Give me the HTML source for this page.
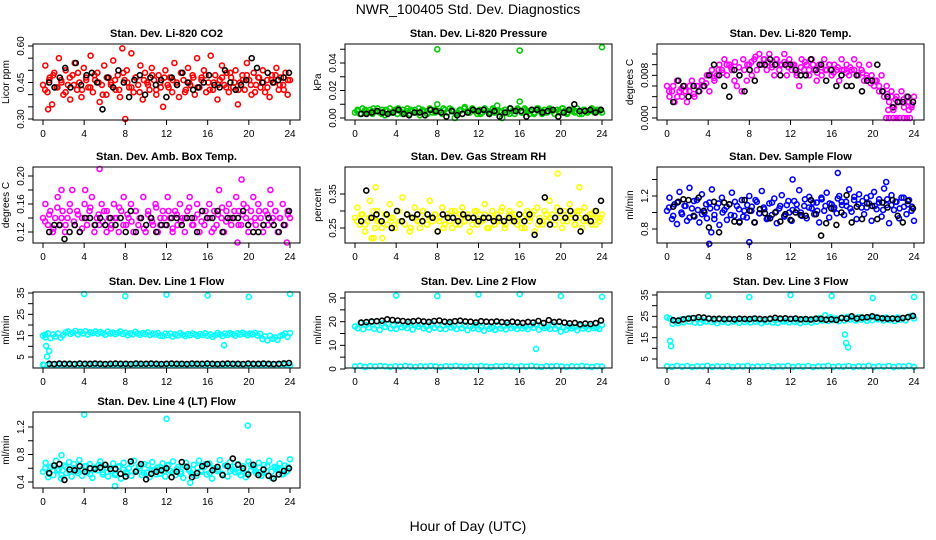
<!DOCTYPE html>
<html><head><meta charset="utf-8">
<style>
html,body{margin:0;padding:0;background:#fff;}
svg{display:block;font-family:"Liberation Sans",Arial,sans-serif;}
</style></head>
<body>
<svg id="chart" width="936" height="540" viewBox="0 0 936 540" xmlns="http://www.w3.org/2000/svg">
<rect width="936" height="540" fill="#fff"/>
<text x="468" y="14" text-anchor="middle" font-size="14">NWR_100405  Std. Dev. Diagnostics</text>
<text x="468" y="531" text-anchor="middle" font-size="14">Hour of Day (UTC)</text>
</svg>
<script>
// ---- data arrays ----
const xTicks = [0,4,8,12,16,20,24];

const co2Red = [0.44,0.52,0.41,0.47,0.36,0.49,0.43,0.55,0.46,0.40,0.50,0.44,0.38,0.48,0.53,0.42,0.45,0.39,0.51,0.47,0.43,0.56,0.41,0.46,0.49,0.37,0.44,0.52,0.40,0.47,0.45,0.54,0.42,0.48,0.39,0.59,0.46,0.50,0.43,0.57,0.41,0.47,0.44,0.52,0.38,0.49,0.45,0.42,0.51,0.46,0.40,0.48,0.43,0.35,0.50,0.44,0.47,0.41,0.53,0.45,0.39,0.49,0.46,0.42,0.51,0.44,0.48,0.40,0.55,0.43,0.47,0.50,0.41,0.45,0.56,0.42,0.48,0.38,0.46,0.52,0.44,0.49,0.41,0.47,0.43,0.50,0.36,0.45,0.48,0.42,0.53,0.46,0.40,0.49,0.44,0.47,0.43,0.50,0.41,0.46,0.39,0.48,0.45,0.51,0.42,0.47,0.44,0.49,0.40,0.46];
const co2RedB = [0.42,0.46,0.48,0.43,0.45,0.41,0.47,0.44,0.49,0.42,0.46,0.43,0.48,0.45,0.40,0.47,0.44,0.46,0.42,0.49,0.45,0.43,0.47,0.41,0.46,0.44,0.48,0.42,0.45,0.47,0.43,0.46,0.44,0.49,0.41,0.45,0.47,0.43,0.46,0.48,0.42,0.45,0.44,0.47,0.43,0.49,0.45,0.42,0.46,0.48,0.44,0.41,0.47,0.45,0.43,0.46,0.48,0.44,0.42,0.46];
const co2Black = [0.45,0.43,0.47,0.51,0.43,0.53,0.44,0.48,0.49,0.45,0.34,0.47,0.43,0.50,0.45,0.39,0.46,0.48,0.40,0.47,0.44,0.46,0.39,0.47,0.44,0.49,0.45,0.42,0.43,0.45,0.48,0.44,0.43,0.50,0.45,0.42,0.44,0.46,0.55,0.51,0.45,0.49,0.45,0.46,0.47,0.49];
const co2SpikeH = [8.0,0.5];
const co2SpikeV = [0.30,0.34];

const presGreen = [0.004,0.006,0.003,0.007,0.005,0.004,0.006,0.003,0.005,0.007,0.004,0.006,0.002,0.005,0.007,0.004,0.006,0.003,0.005,0.006,0.004,0.007,0.003,0.005,0.006,0.004,0.002,0.006,0.005,0.003,0.007,0.004,0.006,0.010,0.005,0.003,0.006,0.004,0.007,0.005,0.000,0.004,0.006,0.003,0.008,0.005,0.004,0.007,0.005,0.003,0.006,0.004,0.007,0.005,0.003,0.006,0.004,0.009,0.005,0.000,0.006,0.004,0.007,0.005,0.003,0.006,0.012,0.004,0.007,0.005,0.003,0.006,0.004,0.007,0.005,0.003,0.006,0.004,0.007,0.005,0.003,0.006,0.004,0.007,0.005,0.003,0.006,0.005,0.004,0.007,0.005,0.003,0.006,0.004,0.005,0.007,0.004,0.006,0.005,0.004];
const presGreenB = [0.005,0.003,0.006,0.004,0.007,0.005,0.003,0.006,0.004,0.005,0.007,0.003,0.005,0.006,0.004,0.007,0.005,0.003,0.006,0.004,0.005,0.007,0.004,0.006,0.003,0.005,0.007,0.004,0.006,0.005,0.003,0.006,0.004,0.007,0.005,0.004,0.006,0.003,0.005,0.007,0.004,0.006,0.005,0.003,0.007,0.005,0.004,0.006,0.003,0.005,0.007,0.004,0.006,0.005,0.003,0.006,0.004,0.007,0.005,0.006];
const presBlack = [0.003,0.003,0.004,0.005,0.004,0.003,0.004,0.006,0.003,0.002,0.004,0.004,0.002,0.006,0.005,0.004,0.001,0.005,0.002,0.003,0.004,0.006,0.005,0.006,0.003,0.005,0.001,0.004,0.007,0.005,0.005,0.001,0.006,0.006,0.004,0.005,0.006,0.001,0.004,0.006,0.010,0.005,0.005,0.006,0.004,0.006];
const presSpikeH = [8.0,16.0,24.0];
const presSpikeV = [0.050,0.049,0.0515];

const tempMag = [0.006,0.004,0.005,0.003,0.007,0.005,0.004,0.006,0.003,0.005,0.007,0.004,0.006,0.005,0.007,0.006,0.008,0.005,0.009,0.007,0.008,0.010,0.009,0.011,0.008,0.010,0.009,0.007,0.006,0.008,0.005,0.009,0.007,0.010,0.008,0.011,0.009,0.012,0.010,0.011,0.009,0.012,0.010,0.008,0.011,0.009,0.010,0.012,0.008,0.011,0.009,0.010,0.008,0.006,0.011,0.009,0.010,0.008,0.011,0.009,0.007,0.010,0.008,0.011,0.009,0.010,0.008,0.010,0.009,0.007,0.011,0.009,0.010,0.008,0.009,0.011,0.008,0.010,0.009,0.007,0.008,0.010,0.008,0.006,0.007,0.005,0.008,0.004,0.006,0.003,0.005,0.002,0.004,0.003,0.005,0.002,0.004,0.003,0.002,0.004];
const tempMagB = [0.005,0.006,0.004,0.0055,0.005,0.006,0.0045,0.006,0.007,0.0065,0.008,0.0075,0.009,0.0085,0.010,0.0095,0.0105,0.0095,0.011,0.010,0.0105,0.0115,0.010,0.011,0.0105,0.0095,0.011,0.010,0.0105,0.0095,0.010,0.0085,0.0095,0.0105,0.009,0.010,0.0085,0.0095,0.009,0.010,0.0085,0.0095,0.009,0.0085,0.0095,0.009,0.008,0.0085,0.0075,0.0065,0.007,0.006,0.005,0.0045,0.004,0.0035,0.003,0.0035,0.003,0.0025];
const tempBlack = [0.003,0.007,0.006,0.004,0.006,0.005,0.006,0.008,0.010,0.008,0.006,0.004,0.009,0.008,0.005,0.009,0.007,0.010,0.010,0.011,0.010,0.008,0.010,0.010,0.009,0.008,0.008,0.011,0.009,0.010,0.007,0.009,0.006,0.008,0.006,0.006,0.008,0.005,0.007,0.007,0.010,0.005,0.004,0.002,0.003,0.003,0.004,0.003];
const tempSpikeH = [21.3,21.6,22.0,22.3,22.6,23.0,23.3,23.6,21.5,22.0,23.5];
const tempSpikeV = [0.000,0.000,0.000,0.000,0.000,0.000,0.000,0.000,0.0015,0.0015,0.0015];

const ambMag = [0.14,0.16,0.13,0.15,0.12,0.14,0.17,0.13,0.15,0.12,0.14,0.16,0.18,0.13,0.15,0.12,0.14,0.16,0.13,0.15,0.17,0.12,0.14,0.13,0.16,0.15,0.12,0.14,0.13,0.16,0.14,0.12,0.15,0.17,0.13,0.14,0.16,0.12,0.15,0.13,0.14,0.17,0.12,0.15,0.14,0.13,0.16,0.12,0.14,0.15,0.13,0.17,0.14,0.12,0.15,0.13,0.16,0.14,0.12,0.15,0.17,0.13,0.14,0.16,0.12,0.15,0.13,0.14,0.16,0.12,0.15,0.13,0.18,0.14,0.12,0.15,0.16,0.13,0.14,0.17,0.15,0.13,0.16,0.14,0.12,0.15,0.17,0.13,0.16,0.14,0.12,0.15,0.13,0.16,0.14,0.15,0.12,0.14,0.16,0.13,0.15,0.14];
const ambMagB = [0.135,0.145,0.125,0.155,0.14,0.13,0.15,0.135,0.145,0.125,0.14,0.155,0.13,0.145,0.135,0.15,0.125,0.14,0.155,0.13,0.145,0.135,0.15,0.14,0.125,0.145,0.135,0.155,0.13,0.14,0.15,0.125,0.145,0.135,0.14,0.155,0.13,0.145,0.135,0.15,0.14,0.125,0.145,0.155,0.135,0.14,0.15,0.13,0.145,0.155,0.135,0.14,0.15,0.13,0.145,0.135,0.15,0.14,0.13,0.145];
const ambBlack = [0.12,0.13,0.13,0.11,0.12,0.13,0.12,0.14,0.14,0.13,0.14,0.13,0.14,0.13,0.14,0.12,0.15,0.12,0.14,0.13,0.14,0.12,0.13,0.13,0.14,0.14,0.13,0.14,0.14,0.12,0.15,0.14,0.14,0.15,0.12,0.14,0.14,0.14,0.15,0.13,0.12,0.12,0.13,0.14,0.13,0.12,0.13,0.15];
const ambSpikeH = [5.5,1.8,4.1,19.3,18.9,22.1,23.7];
const ambSpikeV = [0.21,0.18,0.18,0.195,0.105,0.18,0.105];

const rhYel = [0.28,0.31,0.26,0.29,0.24,0.27,0.33,0.28,0.25,0.30,0.27,0.22,0.29,0.26,0.32,0.28,0.25,0.30,0.27,0.34,0.26,0.29,0.24,0.28,0.31,0.27,0.25,0.30,0.28,0.26,0.33,0.27,0.29,0.24,0.28,0.31,0.26,0.29,0.27,0.25,0.30,0.28,0.26,0.31,0.27,0.29,0.24,0.28,0.30,0.26,0.29,0.27,0.32,0.25,0.28,0.30,0.26,0.29,0.27,0.31,0.25,0.28,0.30,0.27,0.29,0.26,0.32,0.28,0.25,0.30,0.27,0.29,0.24,0.31,0.28,0.26,0.30,0.27,0.33,0.29,0.26,0.31,0.28,0.25,0.30,0.27,0.32,0.29,0.26,0.30,0.28,0.25,0.31,0.27,0.29,0.26,0.30,0.28,0.27,0.29];
const rhYelB = [0.27,0.29,0.26,0.28,0.30,0.27,0.25,0.29,0.28,0.26,0.30,0.27,0.29,0.25,0.28,0.27,0.30,0.26,0.28,0.29,0.27,0.25,0.28,0.30,0.26,0.29,0.27,0.28,0.26,0.30,0.27,0.29,0.25,0.28,0.27,0.30,0.26,0.29,0.28,0.27,0.25,0.29,0.28,0.30,0.26,0.27,0.29,0.28,0.26,0.30,0.27,0.29,0.28,0.26,0.30,0.27,0.28,0.29,0.26,0.28];
const rhBlack = [0.27,0.36,0.28,0.29,0.27,0.29,0.25,0.30,0.27,0.29,0.28,0.29,0.27,0.29,0.28,0.24,0.29,0.28,0.28,0.27,0.29,0.28,0.28,0.27,0.28,0.28,0.27,0.28,0.27,0.28,0.27,0.29,0.27,0.29,0.23,0.27,0.34,0.26,0.28,0.30,0.28,0.30,0.28,0.24,0.28,0.27,0.30,0.33];
const rhSpikeH = [19.7,1.6,1.8,2.0,21.8];
const rhSpikeV = [0.41,0.22,0.22,0.37,0.37];

const flowBlue = [1.02,1.18,0.92,1.10,0.86,1.25,0.98,1.08,0.90,1.30,1.05,0.95,1.15,0.88,1.22,1.00,0.93,1.12,1.28,0.97,1.06,0.85,1.18,1.03,0.91,1.10,1.24,0.96,1.08,0.89,1.15,1.02,0.94,1.20,1.07,0.88,1.13,0.99,1.26,1.04,0.92,1.11,0.97,1.17,0.87,1.05,1.21,0.95,1.09,1.00,0.90,1.14,1.03,1.27,0.96,1.08,0.93,1.19,1.05,0.98,1.12,0.88,1.16,1.02,1.24,0.94,1.10,1.06,0.99,1.20,1.13,0.97,1.08,1.28,1.01,1.15,0.92,1.22,1.06,0.98,1.18,1.11,0.90,1.25,1.04,1.16,0.95,1.29,1.09,0.87,1.21,1.03,1.13,0.93,1.18,1.07,0.98,1.15,1.02,0.90];
const flowBlueB = [1.06,0.96,1.12,1.00,1.08,0.94,1.14,1.03,0.98,1.10,1.05,0.92,1.11,1.00,1.07,0.97,1.13,1.04,0.95,1.09,1.02,1.15,0.99,1.06,0.93,1.12,1.01,1.08,0.96,1.14,1.03,1.10,1.00,1.16,1.06,1.12,1.02,1.18,1.08,1.11,1.04,1.17,1.09,1.13,1.05,1.19,1.10,1.14,1.06,1.20,1.08,1.12,1.03,1.16,1.09,1.13,1.05,1.18,1.10,1.07];
const flowBlack = [1.07,1.13,1.16,1.15,0.96,1.18,1.02,0.82,1.13,0.76,1.12,1.10,0.89,0.88,1.15,1.02,0.88,1.04,0.99,0.93,1.00,0.89,0.98,0.91,1.00,0.97,0.96,1.15,0.98,0.72,0.87,1.05,0.85,1.00,1.21,0.88,1.07,0.92,1.11,1.08,0.92,1.12,1.06,1.15,0.96,0.88,1.14,1.05];
const flowSpikeH = [4.1,8.0,16.6,12.2,21.3,4.3];
const flowSpikeV = [0.62,0.64,1.48,1.40,1.37,0.76];

const l1Cyan = [15.0,14.2,16.1,13.8,15.5,14.6,16.0,14.0,15.2,16.5,17.0,15.8,16.4,17.2,15.6,16.8,16.0,17.1,15.5,16.6,16.2,17.0,15.9,16.7,16.1,15.4,16.9,16.0,16.5,15.7,16.3,17.0,15.8,16.4,15.2,16.1,15.6,16.8,16.0,15.4,16.2,15.7,16.6,15.3,16.0,15.5,16.3,15.0,14.8,15.9,15.2,16.0,14.6,15.6,15.1,16.2,15.4,14.8,15.7,15.2,16.0,15.5,14.9,15.8,15.3,16.1,15.0,15.6,14.4,15.2,16.3,15.5,14.8,16.0,15.4,16.2,15.7,15.0,16.1,15.5,16.4,15.8,15.2,16.0,15.6,16.3,15.1,15.9,13.4,14.6,12.8,15.0,13.6,14.2,13.0,14.8,15.3,16.0,14.4,16.2];
const l1CyanLow = [1.4,1.2,1.5,1.3,1.4,1.2,1.5,1.3,1.4,1.2,1.5,1.3,1.4,1.2,1.5,1.3,1.4,1.2,1.5,1.3,1.4,1.2,1.5,1.3,1.4,1.2,1.5,1.3,1.4,1.2,1.5,1.3,1.4,1.2,1.5,1.3,1.4,1.2,1.5,1.3,1.4,1.2,1.5,1.3,1.4,1.2,1.5,1.3,1.4,1.2];
const l1Black = [1.8,1.7,1.9,1.8,1.8,1.7,1.9,1.8,1.8,1.9,1.8,1.7,1.8,1.9,1.8,1.8,1.7,1.9,1.8,1.8,1.9,1.8,1.7,1.8,1.9,1.8,1.8,1.7,1.9,1.8,1.8,1.9,1.8,1.7,1.8,1.9,1.8,1.8,1.7,1.9,1.8,1.8,1.9,1.8,1.7,1.8,2.0,2.2];
const l1SpikeH = [4.0,8.0,12.0,16.0,20.0,24.0,0.2,0.3,0.4,0.6,17.6,0.1];
const l1SpikeV = [34.5,33.5,34.2,33.8,33.2,34.5,15.5,10.2,5.2,7.8,10.5,1.2];

const l2Cyan = [18.0,17.2,19.5,16.8,18.6,17.5,19.8,17.0,18.3,16.5,19.2,17.8,18.9,17.1,18.4,16.9,19.0,17.6,18.2,17.3,19.4,16.7,18.5,17.9,18.8,17.2,18.0,16.6,19.1,17.4,18.6,17.0,18.3,16.8,19.0,17.5,18.1,16.9,18.7,17.3,18.4,16.4,17.9,17.2,18.5,16.8,17.6,16.2,18.2,17.0,17.4,16.5,18.6,17.1,18.0,16.7,18.8,17.3,17.9,16.9,18.4,17.2,17.7,16.8,18.3,17.4,18.9,16.6,18.1,17.3,17.6,16.9,18.5,17.0,18.2,15.8,17.4,16.6,18.0,17.2,17.6,16.4,18.3,17.1,17.8,16.8,18.1,17.3,17.5,16.9,18.6];
const l2CyanLow = [1.1,1.3,0.9,1.2,1.0,1.3,1.1,0.9,1.2,1.0,1.3,1.1,0.9,1.2,1.0,1.3,1.1,0.9,1.2,1.0,1.3,1.1,0.9,1.2,1.0,1.3,1.1,0.9,1.2,1.0,1.3,1.1,0.9,1.2,1.0,1.3,1.1,0.9,1.2,1.0,1.3,1.1,0.9,1.2,1.0,1.3,1.1,0.9,1.2,1.0];
const l2Black = [19.6,19.8,20.1,20.2,20.4,21.0,20.7,20.5,20.3,20.0,20.2,20.4,20.1,19.9,20.3,20.5,20.0,19.8,20.2,20.4,20.1,20.0,19.7,20.2,20.0,19.9,20.1,19.8,19.6,20.0,19.7,19.5,19.9,19.6,20.3,19.4,20.6,19.8,20.0,19.6,19.3,19.5,18.9,19.2,19.0,19.4,20.5];
const l2SpikeH = [4.0,8.0,12.0,16.0,20.0,24.0,17.6];
const l2SpikeV = [31.0,30.8,31.5,31.6,30.8,30.5,8.5];

const l3Cyan = [24.5,24.0,21.5,22.8,21.8,23.5,22.2,23.8,22.5,24.2,22.0,23.4,21.9,23.1,22.6,23.9,22.3,23.0,21.8,23.6,22.4,23.2,22.0,23.7,22.6,23.1,21.9,23.5,22.3,23.0,22.1,23.8,22.5,23.3,21.8,23.0,22.4,23.6,22.1,23.2,21.9,23.4,22.6,23.0,22.2,23.7,22.4,23.1,21.8,23.5,22.3,23.2,22.0,23.6,22.5,24.2,23.0,25.5,22.8,24.6,23.2,24.0,22.7,24.4,23.1,24.8,23.5,24.1,23.0,24.6,23.4,24.0,22.9,24.3,23.2,24.7,23.6,24.1,23.0,24.4,23.3,24.0,22.8,24.5,23.4,24.2,23.1,24.8,25.2,24.0];
const l3CyanLow = [1.6,1.3,1.8,1.4,1.7,1.2,1.6,1.5,1.8,1.3,1.6,1.4,1.7,1.2,1.6,1.5,1.8,1.3,1.6,1.4,1.7,1.2,1.6,1.5,1.8,1.3,1.6,1.4,1.7,1.2,1.6,1.5,1.8,1.3,1.6,1.4,1.7,1.2,1.6,1.5,1.8,1.3,1.6,1.4,1.7,1.2,1.6,1.5,1.8,1.3];
const l3Black = [23.2,23.0,23.6,24.0,24.2,24.6,24.4,24.0,23.8,23.9,23.7,23.8,23.6,23.9,23.8,23.7,24.0,23.8,23.6,23.9,24.3,24.0,24.1,23.8,24.0,23.6,23.7,23.5,23.9,23.8,23.4,23.6,23.3,24.2,24.0,25.0,24.0,24.4,24.6,25.0,24.4,24.1,23.9,24.0,23.8,24.2,24.6,25.2];
const l3SpikeH = [4.0,8.0,12.0,16.0,20.0,24.0,0.3,0.4,17.3,17.4,17.6];
const l3SpikeV = [34.5,34.0,35.0,34.6,33.6,34.0,13.5,11.0,16.5,12.5,10.5];

const l4Cyan = [0.55,0.68,0.47,0.62,0.50,0.71,0.58,0.45,0.64,0.53,0.69,0.48,0.60,0.56,0.72,0.49,0.63,0.54,0.66,0.46,0.61,0.57,0.70,0.51,0.65,0.48,0.59,0.67,0.52,0.62,0.45,0.68,0.55,0.60,0.49,0.71,0.57,0.63,0.50,0.66,0.54,0.47,0.69,0.58,0.61,0.52,0.67,0.48,0.64,0.56,0.70,0.50,0.62,0.55,0.46,0.68,0.59,0.53,0.65,0.49,0.71,0.57,0.62,0.51,0.67,0.45,0.60,0.56,0.72,0.52,0.64,0.48,0.69,0.58,0.54,0.66,0.50,0.63,0.47,0.70,0.57,0.61,0.53,0.68,0.49,0.65,0.55,0.71,0.46,0.62,0.58,0.67,0.51,0.64,0.56,0.73];
const l4CyanB = [0.60,0.52,0.64,0.57,0.50,0.62,0.55,0.66,0.53,0.59,0.63,0.51,0.58,0.65,0.54,0.61,0.56,0.50,0.63,0.58,0.52,0.66,0.55,0.60,0.53,0.64,0.57,0.51,0.62,0.56,0.65,0.54,0.59,0.52,0.63,0.57,0.50,0.61,0.55,0.66,0.53,0.60,0.58,0.51,0.64,0.56,0.62,0.54,0.59,0.52,0.65,0.57,0.61,0.53,0.63,0.55,0.60,0.58,0.52,0.62];
const l4Black = [0.53,0.64,0.66,0.43,0.58,0.57,0.63,0.55,0.60,0.59,0.61,0.65,0.59,0.59,0.52,0.48,0.70,0.55,0.66,0.44,0.52,0.55,0.57,0.60,0.47,0.55,0.69,0.62,0.47,0.53,0.63,0.66,0.57,0.62,0.50,0.63,0.74,0.65,0.60,0.51,0.65,0.50,0.58,0.49,0.45,0.51,0.56,0.60];
const l4SpikeH = [4.0,12.0,19.9,7.0,1.8,14.3];
const l4SpikeV = [1.38,1.32,1.22,0.34,0.79,0.39];

// ---- layout ----
const BOX_W = 267, BOX_H = 76;
const colLeft = [33, 345, 657];
const rowTop = [44, 167, 292, 412];
const NS = 'http://www.w3.org/2000/svg';
const svg = document.getElementById('chart');

function mk(tag, attrs, parent) {
  const e = document.createElementNS(NS, tag);
  for (const k in attrs) e.setAttribute(k, attrs[k]);
  (parent || svg).appendChild(e);
  return e;
}

const panels = [
  {c:0,r:0,title:'Stan. Dev. Li-820 CO2',ylab:'Licor ppm',name:'co2',yt:[0.30,0.35,0.40,0.45,0.50,0.55,0.60],lv:[0.30,0.45,0.60],lt:['0.30','0.45','0.60'],a:[0.60,2],b:[0.30,75],
   series:[[co2Red,'#ff0000',0,24],[co2RedB,'#ff0000',0.2,23.8],[co2Black,'#000',0.6,23.9]],sh:co2SpikeH,sv:co2SpikeV,sc:'#ff0000'},
  {c:1,r:0,title:'Stan. Dev. Li-820 Pressure',ylab:'kPa',name:'pressure',yt:[0,0.01,0.02,0.03,0.04,0.05],lv:[0,0.02,0.04],lt:['0.00','0.02','0.04'],a:[0,74],b:[0.04,19],
   series:[[presGreen,'#00cc00',0,24],[presGreenB,'#00cc00',0.2,23.8],[presBlack,'#000',0.6,23.9]],sh:presSpikeH,sv:presSpikeV,sc:'#00cc00'},
  {c:2,r:0,title:'Stan. Dev. Li-820 Temp.',ylab:'degrees C',name:'temp',yt:[0,0.002,0.004,0.006,0.008,0.010,0.012],lv:[0,0.008],lt:['0.000','0.008'],a:[0,74],b:[0.012,10],
   series:[[tempMag,'#ff00ff',0,24],[tempMagB,'#ff00ff',0.2,23.8],[tempBlack,'#000',0.6,23.9]],sh:tempSpikeH,sv:tempSpikeV,sc:'#ff00ff'},
  {c:0,r:1,title:'Stan. Dev. Amb. Box Temp.',ylab:'degrees C',name:'amb-box-temp',yt:[0.12,0.14,0.16,0.18,0.20],lv:[0.12,0.16,0.20],lt:['0.12','0.16','0.20'],a:[0.20,9],b:[0.12,65],
   series:[[ambMag,'#ff00ff',0,24],[ambMagB,'#ff00ff',0.2,23.8],[ambBlack,'#000',0.6,23.9]],sh:ambSpikeH,sv:ambSpikeV,sc:'#ff00ff'},
  {c:1,r:1,title:'Stan. Dev. Gas Stream RH',ylab:'percent',name:'gas-stream-rh',yt:[0.25,0.30,0.35],lv:[0.25,0.35],lt:['0.25','0.35'],a:[0.35,27],b:[0.25,61],
   series:[[rhYel,'#ffff00',0,24],[rhYelB,'#ffff00',0.2,23.8],[rhBlack,'#000',0.6,23.9]],sh:rhSpikeH,sv:rhSpikeV,sc:'#ffff00'},
  {c:2,r:1,title:'Stan. Dev. Sample Flow',ylab:'ml/min',name:'sample-flow',yt:[0.8,1.0,1.2,1.4],lv:[0.8,1.2],lt:['0.8','1.2'],a:[1.2,29],b:[0.8,62],
   series:[[flowBlue,'#0000ff',0,24],[flowBlueB,'#0000ff',0.2,23.8],[flowBlack,'#000',0.6,23.9]],sh:flowSpikeH,sv:flowSpikeV,sc:'#0000ff'},
  {c:0,r:2,title:'Stan. Dev. Line 1 Flow',ylab:'ml/min',name:'line1-flow',yt:[5,10,15,20,25,30,35],lv:[5,15,25,35],lt:['5','15','25','35'],a:[35,1],b:[5,65],
   series:[[l1Cyan,'#00ffff',0,24],[l1CyanLow,'#00ffff',0,24],[l1Black,'#000',0.6,23.9]],sh:l1SpikeH,sv:l1SpikeV,sc:'#00ffff'},
  {c:1,r:2,title:'Stan. Dev. Line 2 Flow',ylab:'ml/min',name:'line2-flow',yt:[0,5,10,15,20,25,30],lv:[0,10,20,30],lt:['0','10','20','30'],a:[30,6],b:[0,77],
   series:[[l2Cyan,'#00ffff',0,24],[l2CyanLow,'#00ffff',0,24],[l2Black,'#000',0.6,23.9]],sh:l2SpikeH,sv:l2SpikeV,sc:'#00ffff'},
  {c:2,r:2,title:'Stan. Dev. Line 3 Flow',ylab:'ml/min',name:'line3-flow',yt:[5,10,15,20,25,30,35],lv:[5,15,25,35],lt:['5','15','25','35'],a:[35,3],b:[5,67],
   series:[[l3Cyan,'#00ffff',0,24],[l3CyanLow,'#00ffff',0,24],[l3Black,'#000',0.6,23.9]],sh:l3SpikeH,sv:l3SpikeV,sc:'#00ffff'},
  {c:0,r:3,title:'Stan. Dev. Line 4 (LT) Flow',ylab:'ml/min',name:'line4-flow',yt:[0.4,0.6,0.8,1.0,1.2],lv:[0.4,0.8,1.2],lt:['0.4','0.8','1.2'],a:[1.2,15],b:[0.4,70],
   series:[[l4Cyan,'#00ffff',0,24],[l4CyanB,'#00ffff',0.2,23.8],[l4Black,'#000',0.6,23.9]],sh:l4SpikeH,sv:l4SpikeV,sc:'#00ffff'}
];

function point(g, x, y, color) {
  const c = mk('circle', {cx:x.toFixed(1), cy:y.toFixed(1), r:2.5, fill:'none', stroke:color, 'stroke-width':1.6}, g);
  
  
}

panels.forEach(p => {
  const L = colLeft[p.c], T = rowTop[p.r];
  const xs = h => L + 10 + h * (247 / 24);
  const ys = v => T + p.a[1] + (v - p.a[0]) * (p.b[1] - p.a[1]) / (p.b[0] - p.a[0]);
  const g = mk('g', {});
  
  

  const t = mk('text', {x: L + BOX_W / 2, y: T - 7, 'text-anchor':'middle', 'font-size':11, 'font-weight':'bold'}, g);
  t.textContent = p.title;
  
  

  const yl = mk('text', {x: L - 24, y: T + BOX_H / 2, 'text-anchor':'middle', 'font-size':10, transform:`rotate(-90 ${L - 24} ${T + BOX_H / 2})`}, g);
  yl.textContent = p.ylab;
  
  

  p.series.forEach(s => {
    const vals = s[0], n = vals.length;
    vals.forEach((v, i) => point(g, xs(s[2] + i * (s[3] - s[2]) / (n - 1)), ys(v), s[1]));
  });
  p.sh.forEach((h, i) => point(g, xs(h), ys(p.sv[i]), p.sc));

  const box = mk('rect', {x:L, y:T, width:BOX_W, height:BOX_H, fill:'none', stroke:'#000', 'stroke-width':1}, g);
  
  

  const xa = mk('g', {}, g);
  
  
  mk('line', {x1:xs(0), x2:xs(24), y1:T + BOX_H, y2:T + BOX_H, stroke:'#000'}, xa);
  xTicks.forEach(h => {
    mk('line', {x1:xs(h), x2:xs(h), y1:T + BOX_H, y2:T + BOX_H + 5, stroke:'#000'}, xa);
    const tl = mk('text', {x:xs(h), y:T + BOX_H + 17, 'text-anchor':'middle', 'font-size':10}, xa);
    tl.textContent = String(h);
    
    
  });

  const ya = mk('g', {}, g);
  
  
  mk('line', {x1:L, x2:L, y1:ys(p.yt[0]), y2:ys(p.yt[p.yt.length - 1]), stroke:'#000'}, ya);
  p.yt.forEach(v => {
    const y = ys(v);
    mk('line', {x1:L - 5, x2:L, y1:y, y2:y, stroke:'#000'}, ya);
  });
  p.lv.forEach((v, i) => {
    const y = ys(v);
    const tl = mk('text', {x:L - 9, y:y, 'text-anchor':'middle', 'font-size':10, transform:`rotate(-90 ${L - 9} ${y})`}, ya);
    tl.textContent = p.lt[i];
    
    
  });
});
</script>
</body></html>
